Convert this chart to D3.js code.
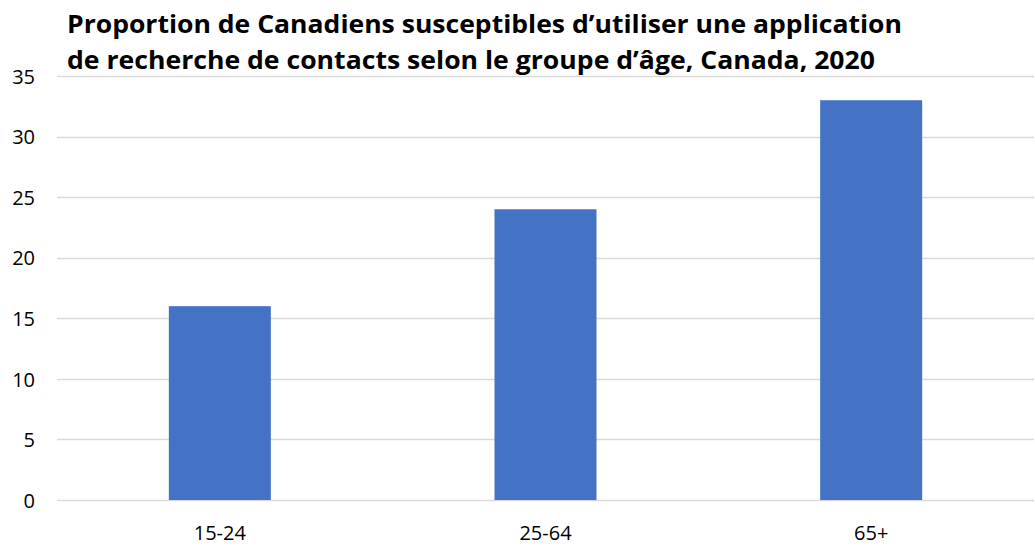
<!DOCTYPE html>
<html>
<head>
<meta charset="utf-8">
<script src="https://cdn.jsdelivr.net/npm/d3@7"></script>
<style>
  html, body { margin: 0; padding: 0; background: #ffffff; }
  svg { display: block; }
  text { font-variant-ligatures: none; }
</style>
</head>
<body>
<svg id="chart" width="1035" height="549"></svg>
<script>
const categories = ["15-24", "25-64", "65+"];
const values = [16, 24, 33];
const yTicks = [0, 5, 10, 15, 20, 25, 30, 35];
const titleLines = [
  "Proportion de Canadiens susceptibles d\u2019utiliser une application",
  "de recherche de contacts selon le groupe d\u2019\u00e2ge, Canada, 2020"
];

const svg = d3.select("#chart");
const font = "'Open Sans', Lato, 'DejaVu Sans', sans-serif";

const x = d3.scaleBand()
  .domain(categories)
  .range([57, 1034])
  .paddingInner(0.6868)
  .paddingOuter(0.3434);

const y = d3.scaleLinear()
  .domain([0, 35])
  .range([500, 76]);

// gridlines
svg.append("g")
  .selectAll("line")
  .data(yTicks)
  .join("line")
  .attr("x1", 57)
  .attr("x2", 1034)
  .attr("y1", d => Math.round(y(d)) + 0.5)
  .attr("y2", d => Math.round(y(d)) + 0.5)
  .attr("stroke", "#d9d9d9")
  .attr("stroke-width", 1.3);

// bars
svg.append("g")
  .selectAll("rect")
  .data(values)
  .join("rect")
  .attr("x", (d, i) => x(categories[i]))
  .attr("width", x.bandwidth())
  .attr("y", d => y(d))
  .attr("height", d => y(0) - y(d))
  .attr("fill", "#4472c4");

// y axis labels
const yAxis = d3.axisLeft(y).tickValues(yTicks).tickSize(0).tickPadding(0);
const gy = svg.append("g").attr("transform", "translate(35,0)").call(yAxis);
gy.select(".domain").remove();
gy.selectAll("text")
  .attr("font-family", font)
  .attr("font-size", "20px")
  .attr("fill", "#000")
  .attr("dy", "0.36em");

// x axis labels
const xAxis = d3.axisBottom(x).tickSize(0).tickPadding(0);
const gx = svg.append("g").attr("transform", "translate(0,540)").call(xAxis);
gx.select(".domain").remove();
gx.selectAll("text")
  .attr("font-family", font)
  .attr("font-size", "20px")
  .attr("fill", "#000")
  .attr("dy", "0");

// title
const titleWidths = [835, 808];
const titleY = [33, 69];
svg.append("g")
  .selectAll("text")
  .data(titleLines)
  .join("text")
  .attr("x", 67)
  .attr("y", (d, i) => titleY[i])
  .attr("font-family", font)
  .attr("font-weight", "bold")
  .attr("font-size", "25.5px")
  .attr("fill", "#000")
  .text(d => d)
  .each(function(d, i) {
    const w = this.getComputedTextLength();
    if (Math.abs(w - titleWidths[i]) > 3) {
      d3.select(this).attr("textLength", titleWidths[i]).attr("lengthAdjust", "spacingAndGlyphs");
    }
  });
</script>
</body>
</html>
